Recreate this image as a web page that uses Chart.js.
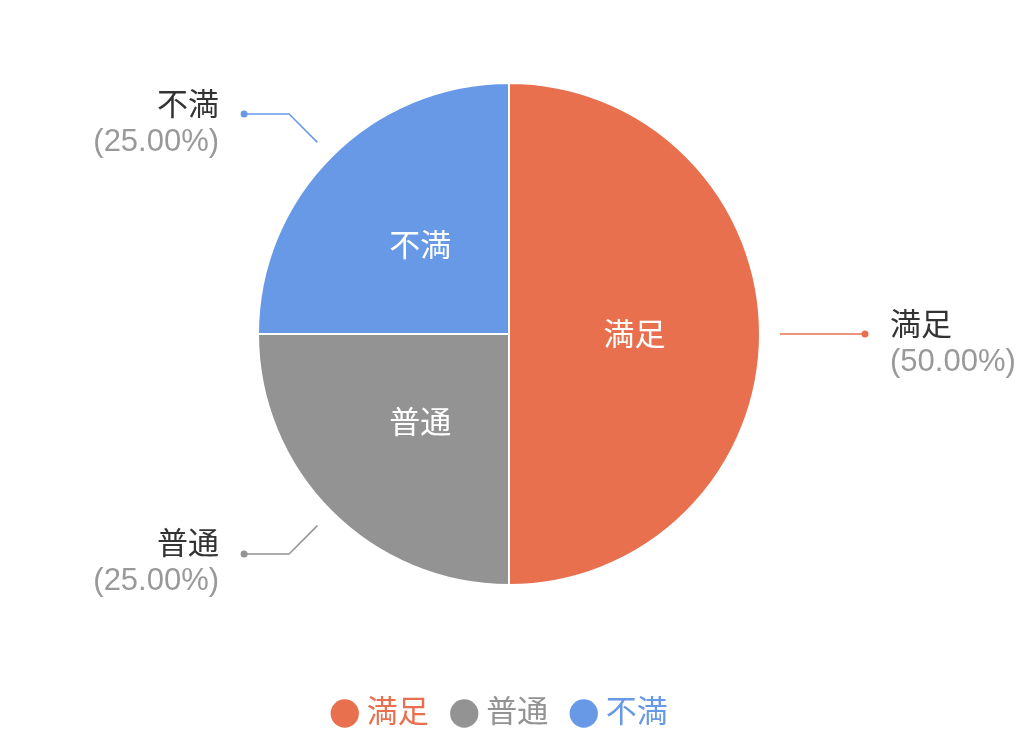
<!DOCTYPE html>
<html>
<head>
<meta charset="utf-8">
<script src="https://cdn.jsdelivr.net/npm/chart.js@4.4.1/dist/chart.umd.min.js"></script>
<style>
  html, body { margin: 0; padding: 0; background: #fff; }
  #wrap { width: 1020px; height: 736px; }
</style>
</head>
<body>
<div id="wrap"><canvas id="chart"></canvas></div>
<script>
const labels = ['満足', '普通', '不満'];
const values = [50, 25, 25];
const colors = ['#E8704F', '#939393', '#6899E6'];

const FONT = "'Liberation Sans', 'Noto Sans CJK JP', sans-serif";

// ラベル（内側と外側の引き出し線）
const sliceLabels = {
  id: 'sliceLabels',
  afterLayout(chart) {
    // 凡例を少し左へ
    chart.legend.left -= 6;
    chart.legend.right -= 6;
  },
  afterDatasetsDraw(chart) {
    const ctx = chart.ctx;
    const meta = chart.getDatasetMeta(0);
    const total = values.reduce((a, b) => a + b, 0);
    meta.data.forEach((arc, i) => {
      const { x, y, outerRadius, startAngle, endAngle } = arc.getProps(['x', 'y', 'outerRadius', 'startAngle', 'endAngle'], true);
      const mid = (startAngle + endAngle) / 2;
      const cos = Math.cos(mid), sin = Math.sin(mid);

      // inside
      ctx.save();
      ctx.fillStyle = '#fff';
      ctx.font = '31px ' + FONT;
      ctx.textAlign = 'center';
      ctx.textBaseline = 'middle';
      ctx.fillText(labels[i], x + cos * outerRadius * 0.5, y + sin * outerRadius * 0.5 + 2);

      // leader line
      const right = cos >= 0;
      const x1 = x + cos * (outerRadius + 20), y1 = y + sin * (outerRadius + 20);
      const x2 = x + cos * (outerRadius + 60), y2 = y + sin * (outerRadius + 60);
      const x3 = right ? x2 + 45 : x2 - 45;
      ctx.strokeStyle = colors[i];
      ctx.lineWidth = 1.5;
      ctx.beginPath();
      ctx.moveTo(x1, y1);
      ctx.lineTo(x2, y2);
      ctx.lineTo(x3, y2);
      ctx.stroke();
      ctx.fillStyle = colors[i];
      ctx.beginPath();
      ctx.arc(x3, y2, 3.5, 0, Math.PI * 2);
      ctx.fill();

      // outside text
      const tx = right ? x3 + 25 : x3 - 25;
      ctx.textAlign = right ? 'left' : 'right';
      ctx.font = '31px ' + FONT;
      ctx.fillStyle = '#333';
      ctx.fillText(labels[i], tx, y2 - 8);
      ctx.fillStyle = '#999';
      const pct = (values[i] / total * 100).toFixed(2);
      ctx.fillText('(' + pct + '%)', tx, y2 + 28);
      ctx.restore();
    });
  }
};

const ctx = document.getElementById('chart').getContext('2d');
new Chart(ctx, {
  type: 'pie',
  data: {
    labels: labels,
    datasets: [{
      data: values,
      backgroundColor: colors,
      borderColor: '#fff',
      borderWidth: 2
    }]
  },
  options: {
    responsive: true,
    maintainAspectRatio: false,
    animation: false,
    layout: { padding: { top: 81, left: 257, right: 259, bottom: -3 } },
    plugins: {
      tooltip: { enabled: false },
      legend: {
        position: 'bottom',
        title: { display: true, text: ' ', padding: { top: 70, bottom: 0 }, font: { size: 10 } },
        labels: {
          usePointStyle: true,
          pointStyle: 'circle',
          boxWidth: 13,
          boxHeight: 20,
          padding: 29,
          font: { size: 31, family: FONT },
          generateLabels(chart) {
            return labels.map((l, i) => ({
              text: l,
              fillStyle: colors[i],
              strokeStyle: colors[i],
              lineWidth: 0,
              fontColor: colors[i],
              pointStyle: 'circle',
              index: i
            }));
          }
        }
      }
    }
  },
  plugins: [sliceLabels]
});
</script>
</body>
</html>
